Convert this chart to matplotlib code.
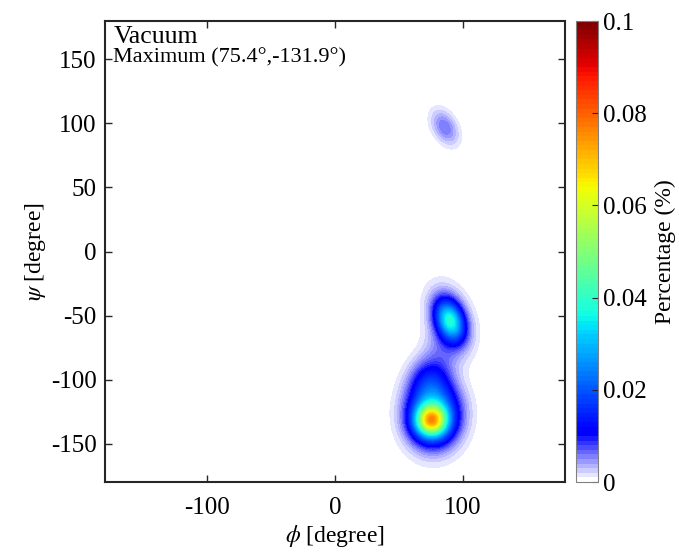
import matplotlib
matplotlib.use("Agg")
import matplotlib.pyplot as plt
import numpy as np
from matplotlib.colors import ListedColormap

plt.rcParams['font.family'] = ['Liberation Serif', 'DejaVu Serif']
plt.rcParams['mathtext.fontset'] = 'stix'
plt.rcParams['axes.unicode_minus'] = False

# Gaussian components of the (phi, psi) population map, percentage per bin
peak_phi = [75.4, 77.0, 74.0, 84.0, 90.0, 90.0, 86.0]
peak_psi = [-131.9, -127.0, -102.0, -78.0, -54.0, -53.0, 97.0]
peak_height = [0.048, 0.030, 0.010, 0.004, 0.030, 0.008, 0.006]
peak_sphi = [8.0, 13.0, 10.0, 10.0, 7.0, 11.0, 7.0]
peak_spsi = [8.0, 16.0, 12.0, 14.0, 10.0, 16.0, 9.0]
peak_rho = [0.0, 0.0, 0.0, 0.0, -0.3, -0.3, -0.4]

max_phi, max_psi = 75.4, -131.9
system_name = 'Vacuum'

cbar_ticks = [0, 0.02, 0.04, 0.06, 0.08, 0.1]
cbar_labels = ['0', '0.02', '0.04', '0.06', '0.08', '0.1']
axis_ticks = [-150, -100, -50, 0, 50, 100, 150]

phi = np.linspace(-180, 180, 361)
psi = np.linspace(-180, 180, 361)
P, S = np.meshgrid(phi, psi)
Z = np.zeros_like(P)
for x0, y0, a, sx, sy, r in zip(peak_phi, peak_psi, peak_height,
                                peak_sphi, peak_spsi, peak_rho):
    dx = (P - x0) / sx
    dy = (S - y0) / sy
    Z += a * np.exp(-(dx**2 - 2 * r * dx * dy + dy**2) / (2 * (1 - r**2)))

# jet with the low end faded from white into blue, 100 entries over 0..0.1
jet = plt.get_cmap('jet')
n_fade = 11
fade = np.linspace(0, 1, n_fade)
low = np.column_stack([1 - fade, 1 - fade, np.ones(n_fade), np.ones(n_fade)])
high = jet(np.linspace(0.125, 1, 100 - n_fade))
cmap = ListedColormap(np.vstack([low, high]))

levels = np.linspace(0, 0.1, 101)

fig = plt.figure(figsize=(6.79, 5.52), dpi=100)
ax = fig.add_axes([0.1546, 0.1268, 0.6775, 0.8351])
cax = fig.add_axes([0.8483, 0.1268, 0.0324, 0.8351])

cf = ax.contourf(P, S, np.clip(Z, 0, 0.0999), levels=levels, cmap=cmap,
                 vmin=0, vmax=0.1)

ax.set_xlim(-180, 180)
ax.set_ylim(-180, 180)
ax.set_xticks([-100, 0, 100])
ax.set_yticks(axis_ticks)
ax.tick_params(direction='in', length=5, width=1.0, top=True, right=True,
               labelsize=18, color='#262626')
ax.tick_params(axis='x', pad=11)
ax.tick_params(axis='y', pad=6)
for sp in ax.spines.values():
    sp.set_linewidth(1.5)
    sp.set_color('#262626')
ax.set_xlabel(r'$\phi$ [degree]', fontsize=17, labelpad=3)
ax.set_ylabel(r'$\psi$ [degree]', fontsize=17, labelpad=2)

ax.text(0.018, 0.952, system_name, transform=ax.transAxes, fontsize=18.5,
        va='baseline', ha='left')
ax.text(0.018, 0.911, 'Maximum (%.1f\u00b0,%.1f\u00b0)' % (max_phi, max_psi),
        transform=ax.transAxes, fontsize=16, va='baseline', ha='left')

cb = fig.colorbar(cf, cax=cax, ticks=cbar_ticks)
cb.ax.set_yticklabels(cbar_labels)
cb.ax.tick_params(direction='in', length=4, width=0.8, labelsize=18,
                  color='#262626')
cb.outline.set_linewidth(0.8)
cb.outline.set_edgecolor('#808080')
cb.set_label('Percentage (%)', fontsize=17, labelpad=6)

fig.savefig('out.png', dpi=100)
